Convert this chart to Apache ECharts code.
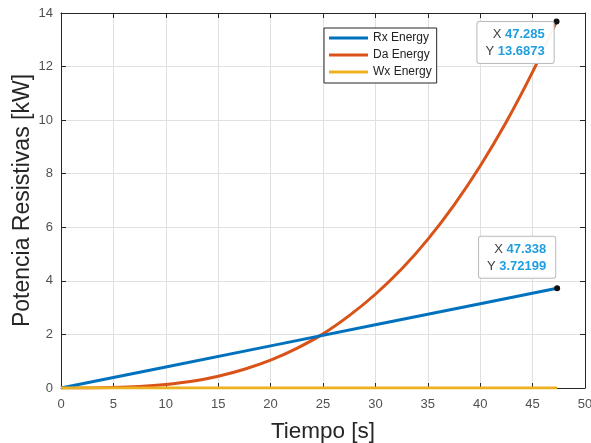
<!DOCTYPE html>
<html><head><meta charset="utf-8">
<script src="https://cdn.jsdelivr.net/npm/echarts@6/dist/echarts.min.js"></script>
<style>html,body{margin:0;padding:0;background:#fff}#c{width:591px;height:443px}</style>
</head><body><div id="c"></div>
<script>
const xTicks = [0,5,10,15,20,25,30,35,40,45,50];
const yTicks = [0,2,4,6,8,10,12,14];
const rxT = [0, 10, 20, 30, 40, 47.338];
const rxV = [0, 0.786, 1.573, 2.359, 3.145, 3.72199];
const daT = [0, 2.5, 5, 7.5, 10, 12.5, 15, 17.5, 20, 22.5, 25, 27.5, 30, 32.5, 35, 37.5, 40, 42.5, 45, 47.285];
const daV = [0, 0.002, 0.016, 0.055, 0.13, 0.25, 0.44, 0.70, 1.04, 1.48, 2.02, 2.70, 3.50, 4.44, 5.55, 6.83, 8.29, 9.94, 11.80, 13.6873];
const wxT = [0, 47.338];
const wxV = [0, 0];
const seriesNames = ['Rx Energy', 'Da Energy', 'Wx Energy'];
const tip1 = {x: 47.285, y: 13.6873, xs: '47.285', ys: '13.6873'};
const tip2 = {x: 47.338, y: 3.72199, xs: '47.338', ys: '3.72199'};

const FONT = '"Liberation Sans", Arial, sans-serif';
const pair = (t, v) => t.map((x, i) => [x, v[i]]);
function tip(p, off) {
  return {
    symbol: 'circle', symbolSize: 6, itemStyle: {color: '#111'},
    data: [{coord: [p.x, p.y], value: 0}],
    label: {
      show: true, position: 'inside', offset: off,
      formatter: '{k|X }{v|' + p.xs + '}\n{k|Y }{v|' + p.ys + '}',
      backgroundColor: 'rgba(255,255,255,0.95)', borderColor: '#b8bcc0', borderWidth: 1,
      borderRadius: 2, padding: [4, 9, 3, 8], align: 'center', verticalAlign: 'middle',
      rich: {
        k: {fontFamily: FONT, fontSize: 13, color: '#404040', lineHeight: 17, align: 'right'},
        v: {fontFamily: FONT, fontSize: 13, color: '#1f9ee0', fontWeight: 'bold', lineHeight: 17, align: 'right'}
      }
    }
  };
}
const chart = echarts.init(document.getElementById('c'), null, {renderer: 'canvas'});
const axCommon = {
  type: 'value', min: 0, nameMoveOverlap: false,
  axisLine: {show: true, onZero: false, lineStyle: {color: '#262626', width: 1}},
  axisTick: {show: true, inside: true, length: 5, lineStyle: {color: '#262626'}},
  axisLabel: {color: '#505050', fontSize: 13, fontFamily: FONT},
};
chart.setOption({
  animation: false,
  grid: {left: 61, right: 6, top: 13, bottom: 55, containLabel: false, outerBoundsMode: 'none'},
  legend: {
    orient: 'vertical', left: 324, top: 28,
    data: seriesNames, icon: 'rect',
    backgroundColor: '#fff', borderColor: '#262626', borderWidth: 1,
    padding: [3, 5, 4, 5], itemWidth: 39, itemHeight: 3, itemGap: 3,
    textStyle: {fontFamily: FONT, fontSize: 12, color: '#222', lineHeight: 14}
  },
  xAxis: [
    Object.assign({}, axCommon, {max: 50, interval: 5, position: 'bottom',
      axisLabel: Object.assign({}, axCommon.axisLabel, {margin: 10}),
      splitLine: {show: true, lineStyle: {color: '#e0e0e0'}},
      name: 'Tiempo [s]', nameLocation: 'middle', nameGap: 32,
      nameTextStyle: {fontFamily: FONT, fontSize: 22.5, color: '#262626'}}),
    Object.assign({}, axCommon, {max: 50, interval: 5, position: 'top',
      axisLabel: {show: false}, splitLine: {show: false}})
  ],
  yAxis: [
    Object.assign({}, axCommon, {max: 14, interval: 2, position: 'left',
      axisLabel: Object.assign({}, axCommon.axisLabel, {margin: 8}),
      splitLine: {show: true, lineStyle: {color: '#e0e0e0'}},
      name: 'Potencia Resistivas [kW]', nameLocation: 'middle', nameGap: 27,
      nameTextStyle: {fontFamily: FONT, fontSize: 23, color: '#262626'}}),
    Object.assign({}, axCommon, {max: 14, interval: 2, position: 'right',
      axisLabel: {show: false}, splitLine: {show: false}})
  ],
  series: [
    {name: seriesNames[0], type: 'line', symbol: 'none', data: pair(rxT, rxV),
     lineStyle: {color: '#0072BD', width: 3}, itemStyle: {color: '#0072BD'}, z: 3,
     markPoint: tip(tip2, [-40, -31])},
    {name: seriesNames[1], type: 'line', symbol: 'none', smooth: 0.3, data: pair(daT, daV),
     lineStyle: {color: '#D95319', width: 3}, itemStyle: {color: '#D95319'}, z: 2,
     markPoint: tip(tip1, [-41, 21])},
    {name: seriesNames[2], type: 'line', symbol: 'none', data: pair(wxT, wxV),
     lineStyle: {color: '#EDB120', width: 3}, itemStyle: {color: '#EDB120'}, z: 4}
  ]
});
</script></body></html>
